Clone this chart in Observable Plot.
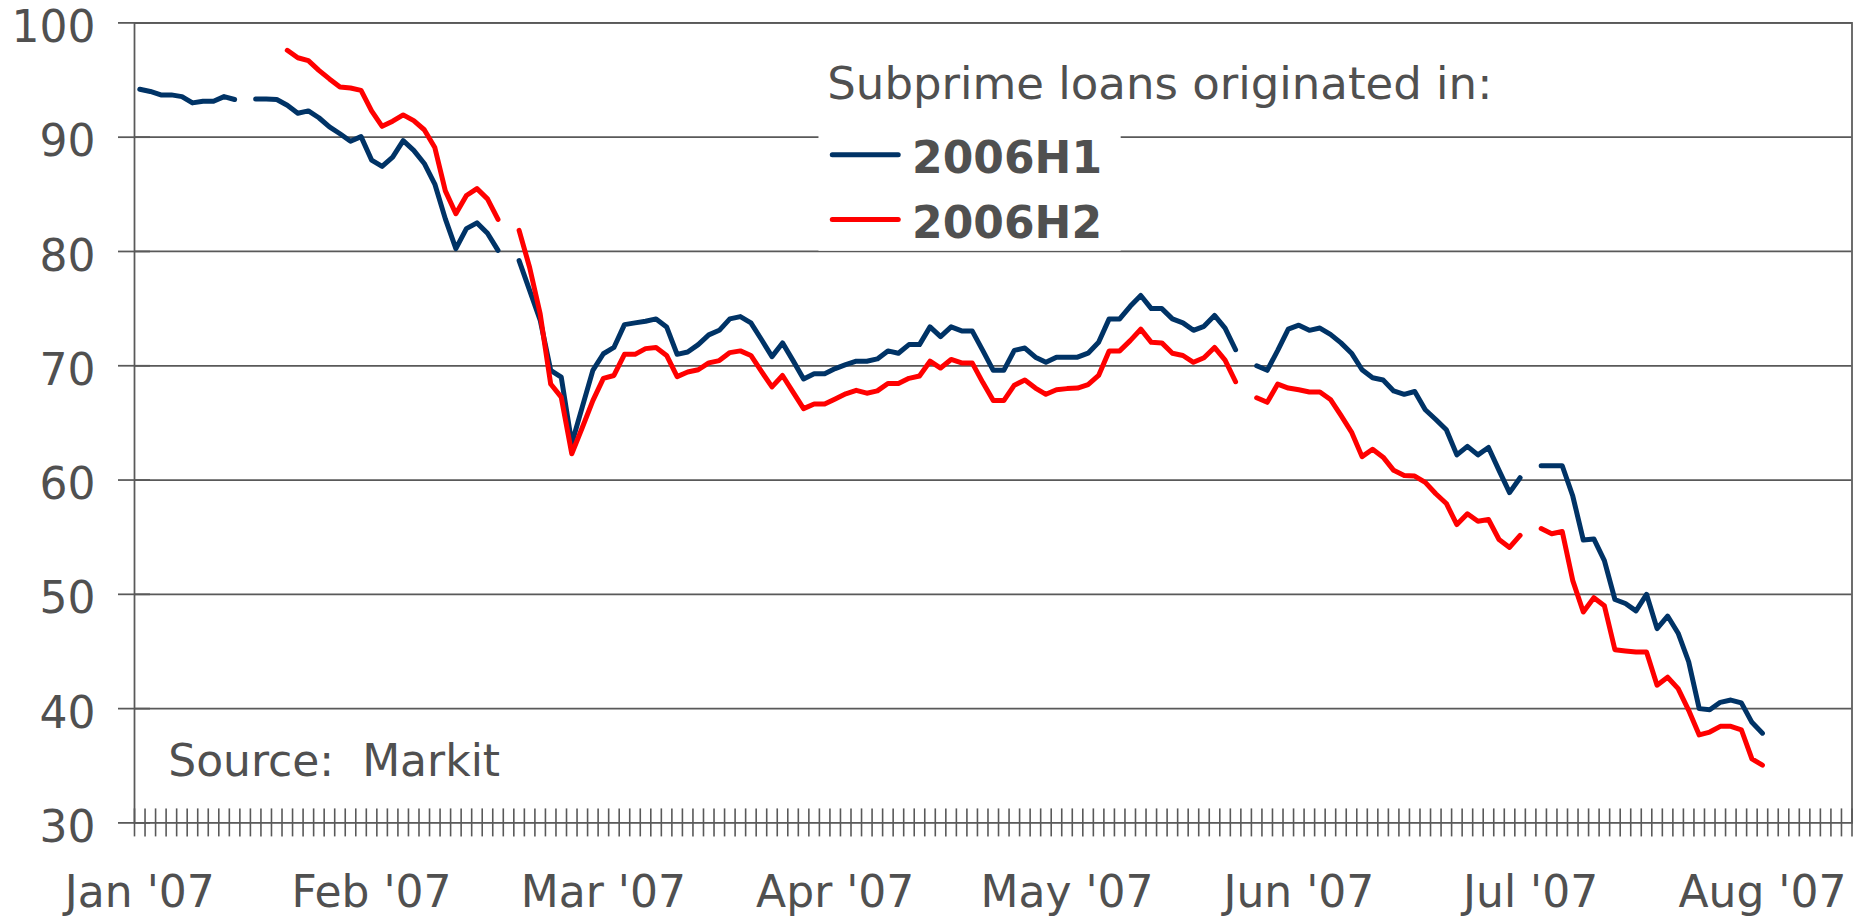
<!DOCTYPE html>
<html>
<head>
<meta charset="utf-8">
<script src="https://cdn.jsdelivr.net/npm/d3@7"></script>
<script src="https://cdn.jsdelivr.net/npm/@observablehq/plot@0.6"></script>
<style>
  html, body { margin: 0; padding: 0; background: #fff; }
  #chart svg { display: block; }
</style>
</head>
<body>
<div id="chart"></div>
<script>
// ---- Data (trading-day index, 0 = first trading day of Jan 2007; null = holiday gap) ----
const seriesNames = ["2006H1", "2006H2"];
const seriesColors = ["#003366", "#ff0000"];

const h1 = [
  94.2, 94.0, 93.7, 93.7, 93.55, 93.0, 93.15, 93.15, 93.55, 93.3,
  null, 93.35, 93.35, 93.3, 92.8, 92.1, 92.3, 91.7, 90.9, 90.3,
  89.65, 90.05, 88.0, 87.45, 88.25, 89.7, 88.85, 87.7, 85.9, 82.85,
  80.25, 82.0, 82.5, 81.6, 80.1, null, 79.2, 76.6, 74.0, 69.6,
  69.0, 63.2, 66.4, 69.6, 71.05, 71.6, 73.6, 73.75, 73.9, 74.1,
  73.4, 71.0, 71.2, 71.85, 72.7, 73.1, 74.1, 74.3, 73.75, 72.3,
  70.8, 72.0, 70.45, 68.85, 69.3, 69.3, 69.75, 70.1, 70.4, 70.4,
  70.6, 71.3, 71.1, 71.85, 71.85, 73.4, 72.55, 73.4, 73.05, 73.05,
  71.35, 69.6, 69.6, 71.35, 71.55, 70.75, 70.3, 70.75, 70.75, 70.75,
  71.1, 72.05, 74.1, 74.1, 75.2, 76.15, 75.0, 75.0, 74.1, 73.75,
  73.1, 73.45, 74.4, 73.3, 71.4, null, 70.0, 69.6, 71.35, 73.2,
  73.55, 73.1, 73.3, 72.75, 72.0, 71.1, 69.65, 68.95, 68.75, 67.8,
  67.5, 67.75, 66.15, 65.3, 64.4, 62.2, 62.95, 62.2, 62.85, 60.85,
  58.9, 60.2, null, 61.25, 61.25, 61.25, 58.6, 54.75, 54.85, 52.95,
  49.55, 49.2, 48.55, 50.0, 47.0, 48.1, 46.6, 44.1, 40.0, 39.9,
  40.55, 40.75, 40.5, 38.8, 37.85
];

const h2 = [
  null, null, null, null, null, null, null, null, null, null,
  null, null, null, null, 97.6, 96.95, 96.7, 95.85, 95.1, 94.4,
  94.3, 94.1, 92.3, 90.95, 91.4, 91.95, 91.45, 90.65, 89.1, 85.3,
  83.3, 84.9, 85.5, 84.6, 82.8, null, 81.85, 78.6, 74.55, 68.4,
  67.25, 62.3, 64.6, 66.95, 68.9, 69.15, 71.0, 71.0, 71.5, 71.6,
  70.9, 69.05, 69.45, 69.65, 70.25, 70.45, 71.15, 71.3, 70.9, 69.5,
  68.15, 69.15, 67.7, 66.25, 66.65, 66.65, 67.1, 67.55, 67.85, 67.6,
  67.8, 68.45, 68.45, 68.9, 69.1, 70.4, 69.8, 70.55, 70.25, 70.25,
  68.55, 66.95, 66.95, 68.3, 68.75, 68.05, 67.5, 67.9, 68.0, 68.05,
  68.35, 69.15, 71.3, 71.3, 72.2, 73.2, 72.05, 72.0, 71.1, 70.9,
  70.3, 70.7, 71.6, 70.5, 68.6, null, 67.2, 66.8, 68.4, 68.05,
  67.9, 67.7, 67.7, 67.05, 65.65, 64.2, 62.05, 62.7, 62.0, 60.85,
  60.4, 60.35, 59.8, 58.8, 57.95, 56.1, 57.05, 56.4, 56.55, 54.8,
  54.1, 55.15, null, 55.75, 55.3, 55.5, 51.2, 48.45, 49.7, 49.0,
  45.15, 45.05, 44.95, 44.95, 42.05, 42.75, 41.75, 39.85, 37.7, 37.95,
  38.45, 38.45, 38.15, 35.6, 35.05
];

// x-axis: category axis of trading days
const nCategories = 163;
const monthLabels = ["Jan '07", "Feb '07", "Mar '07", "Apr '07", "May '07", "Jun '07", "Jul '07", "Aug '07"];
const monthLabelDays = [0, 22, 44, 66, 88, 110, 132, 154];
const yTicks = [30, 40, 50, 60, 70, 80, 90, 100];

const legendTitle = "Subprime loans originated in:";
const sourceText = "Source:\u00a0 Markit";

// ---- Build table ----
const rows = [];
[h1, h2].forEach((vals, s) => {
  vals.forEach((v, i) => rows.push({series: seriesNames[s], day: i, value: v}));
});

const gridColor = "#595959";
const textColor = "#505050";
const catCenter = (i) => i + 0.5;

const chart = Plot.plot({
  width: 1855,
  height: 919,
  marginLeft: 134,
  marginRight: 3.5,
  marginTop: 22.4,
  marginBottom: 96.6,
  style: {fontFamily: "'DejaVu Sans', Verdana, sans-serif", fontSize: "44px", color: textColor, background: "#fff"},
  x: {type: "linear", domain: [0, nCategories], axis: null},
  y: {domain: [30, 100], axis: null},
  marks: [
    // horizontal gridlines
    Plot.ruleY(yTicks.filter(d => d > 30), {y: d => d, stroke: gridColor, strokeWidth: 1.75, strokeOpacity: 1}),
    // legend background box
    Plot.rect([{x1: 64.96, x2: 93.64, y1: 92.2, y2: 80.02}], {x1: "x1", x2: "x2", y1: "y1", y2: "y2", fill: "#fff"}),
    // frame
    Plot.frame({stroke: gridColor, strokeWidth: 1.75, strokeOpacity: 1}),
    // y ticks (cross)
    Plot.ruleY(yTicks, {y: d => d, x1: 0, x2: 0, insetLeft: -16, insetRight: -16, stroke: gridColor, strokeWidth: 1.75}),
    // x ticks (cross), one per trading day boundary
    Plot.ruleX(d3.range(0, nCategories + 1), {x: d => d, y1: 30, y2: 30, insetTop: -14, insetBottom: -14, stroke: gridColor, strokeWidth: 1.6}),
    // y axis labels
    Plot.axisY({ticks: yTicks, tickSize: 0, tickPadding: 39, dy: 5, fill: textColor, fontSize: 44}),
    // x axis labels
    Plot.axisX({
      ticks: monthLabelDays.map(catCenter),
      tickSize: 0,
      tickPadding: 53,
      tickFormat: d => monthLabels[monthLabelDays.indexOf(d - 0.5)],
      fill: textColor,
      fontSize: 44
    }),
    // data lines
    Plot.line(rows, {
      x: d => catCenter(d.day),
      y: "value",
      z: "series",
      stroke: d => seriesColors[seriesNames.indexOf(d.series)],
      strokeWidth: 5,
      strokeLinejoin: "round",
      strokeLinecap: "round"
    }),
    // legend
    Plot.text([legendTitle], {x: 65.75, y: 94.6, text: d => d, textAnchor: "start", fill: textColor, fontSize: 45}),
    Plot.ruleY(seriesNames, {y: (d, i) => [88.46, 82.8][i], x1: 66.27, x2: 72.53, stroke: (d, i) => seriesColors[i], strokeWidth: 5, strokeLinecap: "round"}),
    Plot.text(seriesNames, {x: 73.8, y: (d, i) => [88.1, 82.45][i], text: d => d, textAnchor: "start", fontWeight: "bold", fill: textColor, fontSize: 44}),
    // source note
    Plot.text([sourceText], {x: 3.2, y: 35.3, text: d => d, textAnchor: "start", fill: textColor, fontSize: 44})
  ]
});

document.getElementById("chart").appendChild(chart);
</script>
</body>
</html>
